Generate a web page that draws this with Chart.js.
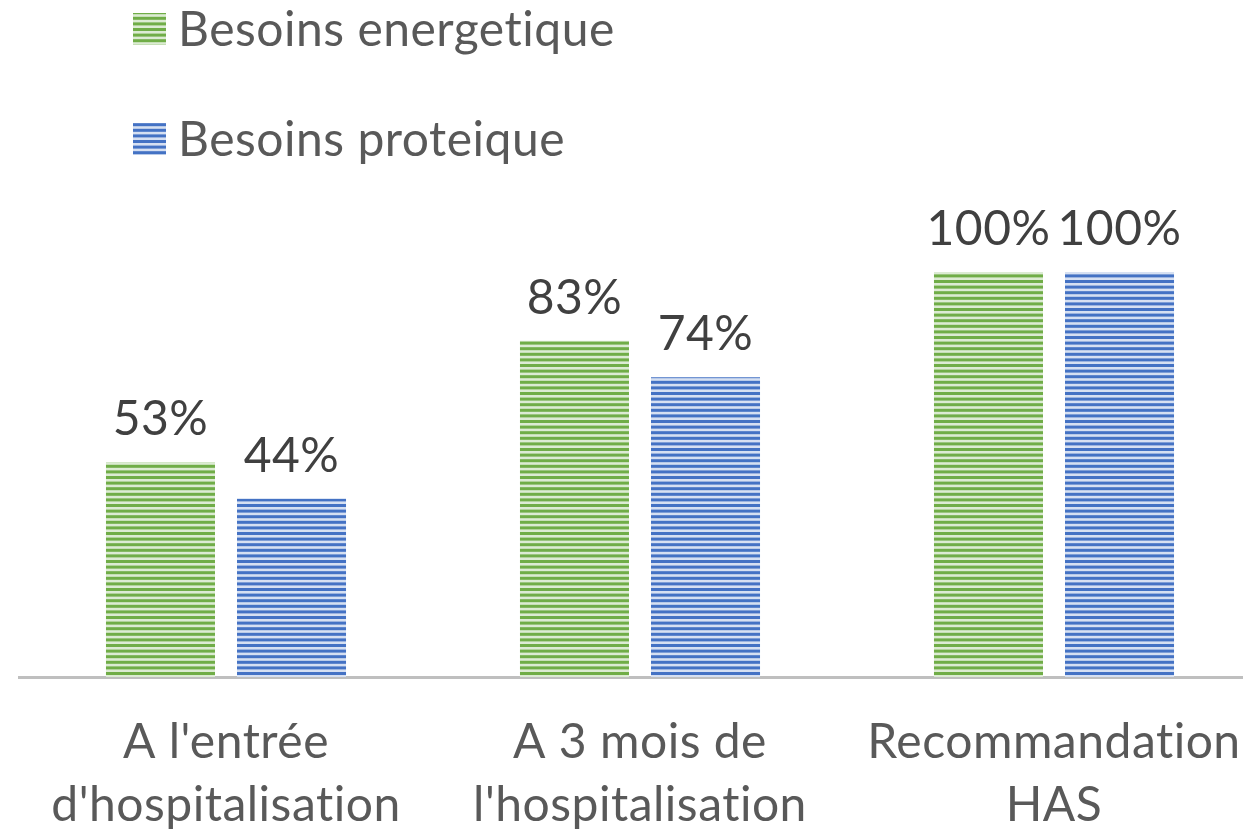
<!DOCTYPE html>
<html>
<head>
<meta charset="utf-8">
<script src="https://cdn.jsdelivr.net/npm/chart.js@4.4.1/dist/chart.umd.min.js"></script>
<style>
  html, body { margin: 0; padding: 0; background: #fff; }
  #wrap { width: 1243px; height: 832px; overflow: hidden; }
  canvas { display: block; }
</style>
</head>
<body>
<div id="wrap"><canvas id="chart" width="1280" height="832"></canvas></div>
<script>
const categories = [
  ["A l'entrée", "d'hospitalisation"],
  ["A 3 mois de", "l'hospitalisation"],
  ["Recommandation", "HAS"]
];
const seriesNames = ['Besoins energetique', 'Besoins proteique'];
const energetique = [0.53, 0.83, 1.00];
const proteique = [0.44, 0.74, 1.00];

const FONT = 'Lato, Calibri, sans-serif';
const SIZE = 48;

const canvas = document.getElementById('chart');
const ctx = canvas.getContext('2d');

// horizontal stripe fill like the Excel "dark horizontal" pattern
function stripes(dark, light) {
  const tile = document.createElement('canvas');
  tile.width = 8;
  tile.height = 28;
  const c = tile.getContext('2d');
  c.fillStyle = light;
  c.fillRect(0, 0, 8, 28);
  c.fillStyle = dark;
  for (let i = 0; i < 5; i++) c.fillRect(0, i * 5.6, 8, 3);
  return ctx.createPattern(tile, 'repeat');
}

const greenFill = stripes('#70ad47', '#dcebd3');
const blueFill = stripes('#4472c4', '#d6e0f2');

// a bit of tracking: closer to Calibri widths, and no "ti" ligature
const tracking = {
  id: 'tracking',
  beforeDraw(chart) {
    chart.ctx.letterSpacing = '0.5px';
  }
};

const stackedLegend = {
  id: 'stackedLegend',
  afterDraw(chart) {
    const c = chart.ctx;
    c.save();
    c.font = SIZE + 'px ' + FONT;
    c.letterSpacing = '0.5px';
    c.textBaseline = 'middle';
    chart.data.datasets.forEach((ds, i) => {
      const y = 13 + i * 110;
      c.fillStyle = ds.backgroundColor;
      c.fillRect(133, y, 33, 32);
      c.fillStyle = '#595959';
      c.fillText(ds.label, 178, y + 18);
    });
    c.restore();
  }
};

const valueLabels = {
  id: 'valueLabels',
  afterDatasetsDraw(chart) {
    const c = chart.ctx;
    c.save();
    c.font = SIZE + 'px ' + FONT;
    c.letterSpacing = '0.5px';
    c.fillStyle = '#404040';
    c.textAlign = 'center';
    c.textBaseline = 'alphabetic';
    chart.data.datasets.forEach((ds, i) => {
      chart.getDatasetMeta(i).data.forEach((bar, j) => {
        c.fillText(Math.round(ds.data[j] * 100) + '%', bar.x, bar.y - 27);
      });
    });
    c.restore();
  }
};

new Chart(ctx, {
  type: 'bar',
  data: {
    labels: categories,
    datasets: [
      { label: seriesNames[0], data: energetique, backgroundColor: greenFill },
      { label: seriesNames[1], data: proteique, backgroundColor: blueFill }
    ]
  },
  options: {
    responsive: false,
    devicePixelRatio: 1,
    animation: false,
    layout: { padding: { top: 191, left: 19, right: 19, bottom: 0 } },
    datasets: {
      bar: { barPercentage: 0.832, categoryPercentage: 0.633, borderWidth: 0 }
    },
    plugins: {
      legend: { display: false },
      tooltip: { enabled: false }
    },
    scales: {
      x: {
        z: 1,
        offset: true,
        grid: { display: false, drawTicks: false },
        border: { display: true, color: '#bfbfbf', width: 3 },
        ticks: {
          color: '#595959',
          font: { family: FONT, size: SIZE, lineHeight: 1.31 },
          padding: 34,
          maxRotation: 0,
          autoSkip: false
        },
        afterFit(scale) { scale.height = 155; }
      },
      y: {
        display: false,
        min: 0,
        max: 1.2
      }
    }
  },
  plugins: [tracking, stackedLegend, valueLabels]
});
</script>
</body>
</html>
